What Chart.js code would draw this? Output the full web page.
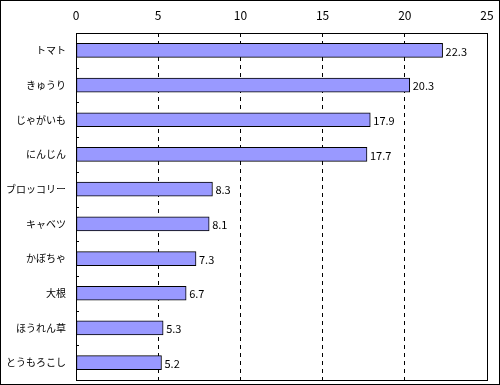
<!DOCTYPE html>
<html><head><meta charset="utf-8">
<script src="https://cdn.jsdelivr.net/npm/chart.js@4/dist/chart.umd.min.js"></script>
<style>html,body{margin:0;padding:0;background:#fff;}#wrap{width:500px;height:385px;position:relative;}</style>
</head><body><div id="wrap"><canvas id="c" width="500" height="385"></canvas></div>
<script>
const categories = ["トマト","きゅうり","じゃがいも","にんじん","ブロッコリー","キャベツ","かぼちゃ","大根","ほうれん草","とうもろこし"];
const values = [22.3,20.3,17.9,17.7,8.3,8.1,7.3,6.7,5.3,5.2];
const xTicks = [0,5,10,15,20,25];
const FONT = "'Noto Sans CJK JP', 'Liberation Sans', sans-serif";

const decor = {
  id:'decor',
  afterDatasetsDraw(chart){
    const ctx = chart.ctx, a = chart.chartArea;
    ctx.save();
    ctx.strokeStyle = '#000'; ctx.lineWidth = 1; ctx.setLineDash([]);
    ctx.strokeRect(Math.round(a.left)+0.5, Math.round(a.top)+0.5, Math.round(a.right-a.left), Math.round(a.bottom-a.top));
    const n = categories.length, step = (a.bottom - a.top)/n;
    ctx.beginPath();
    for(let i=1;i<n;i++){
      const y = Math.round(a.top + i*step)+0.5;
      ctx.moveTo(a.left, y); ctx.lineTo(a.left+3, y);
    }
    ctx.stroke();
    ctx.fillStyle = '#000'; ctx.font = '11px ' + FONT; ctx.textBaseline = 'middle'; ctx.textAlign = 'left';
    const meta = chart.getDatasetMeta(0);
    meta.data.forEach((bar,i)=>{ ctx.fillText(String(values[i]), bar.x + 3, bar.y + 1); });
    ctx.strokeRect(0.5, 0.5, chart.width-1, chart.height-1);
    ctx.restore();
  }
};

new Chart(document.getElementById('c'), {
  type:'bar',
  data:{ labels:categories, datasets:[{ data:values, backgroundColor:'#9999ff', borderColor:'#000', borderWidth:1, barThickness:14, borderSkipped:false }]},
  plugins:[decor],
  options:{
    indexAxis:'y', responsive:false, animation:false, devicePixelRatio:1,
    layout:{ padding:{ left:0, right:13, top:0, bottom:5 } },
    plugins:{ legend:{display:false}, tooltip:{enabled:false} },
    scales:{
      x:{ position:'top', min:0, max:25, afterBuildTicks(s){ s.ticks = xTicks.map(v=>({value:v})); },
          afterFit(s){ s.height = 33; s.paddingLeft = 0; s.paddingRight = 0; s.paddingTop = 0; s.paddingBottom = 0; },
          border:{display:false, dash:[4,4]},
          grid:{ drawTicks:false, color:'#000' },
          ticks:{ color:'#000', font:{family:FONT, size:12}, padding:10 } },
      y:{ afterFit(s){ s.width = 76; s.paddingLeft = 0; s.paddingRight = 0; s.paddingTop = 0; s.paddingBottom = 0; },
          border:{display:false},
          grid:{ display:false, drawTicks:false },
          ticks:{ color:'#000', font:{family:FONT, size:10}, padding:10 } }
    }
  }
});
</script>
</body></html>
